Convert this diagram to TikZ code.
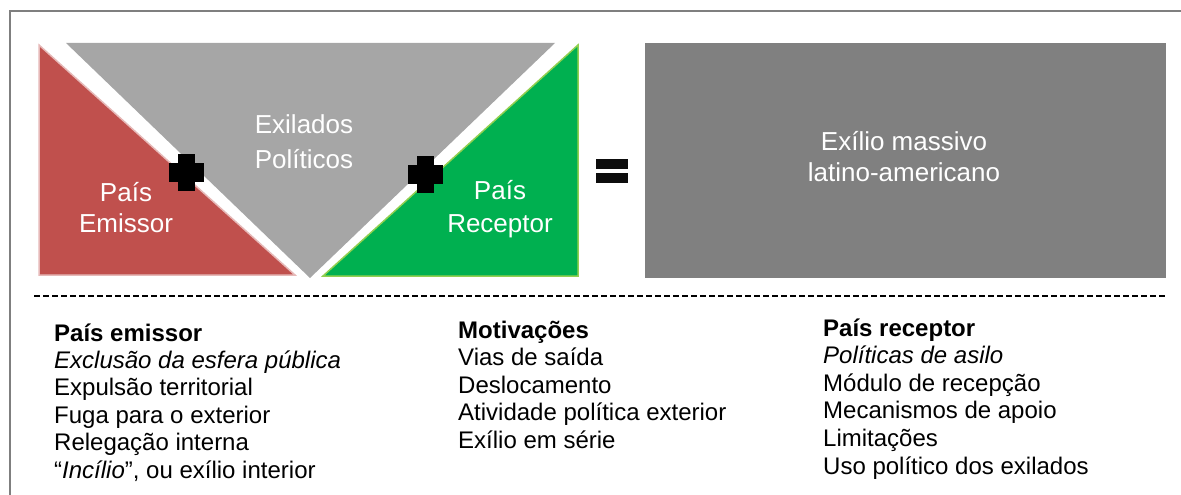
\documentclass[tikz,border=0pt]{standalone}
\usepackage{fontspec}
\setmainfont{Liberation Sans}
\definecolor{emissorred}{HTML}{C0504D}
\definecolor{emissoredge}{HTML}{E6B9B8}
\definecolor{receptorgreen}{HTML}{00B050}
\definecolor{receptoredge}{HTML}{92D050}
\definecolor{exiladosgray}{HTML}{A6A6A6}
\definecolor{massivogray}{HTML}{808080}
\definecolor{framegray}{HTML}{7F7F7F}
\tikzset{
  biglabel/.style={text=white, align=center, inner sep=0pt, anchor=base,
    font=\fontsize{26}{32}\selectfont},
  column/.style={align=left, inner sep=0pt, anchor=base west,
    font=\fontsize{24}{27.5}\selectfont}
}
\begin{document}
\begin{tikzpicture}[x=1pt,y=-1pt]
        \useasboundingbox (0,0) rectangle (1181,495);
        \draw[framegray, line width=1.5pt] (10,495) -- (10,11) -- (1181,11);
        % triangles
        \fill[exiladosgray] (66,43) -- (555,43) -- (310,278) -- cycle;
        \filldraw[fill=emissorred, draw=emissoredge, line width=1.5pt] (39,45) -- (39,275) -- (295,275) -- cycle;
        \filldraw[fill=receptorgreen, draw=receptoredge, line width=1.5pt] (323,276) -- (578,45) -- (578,276) -- cycle;
        \fill[massivogray] (645,43) rectangle (1166,278);
        % plus and equals signs
        \foreach \cx/\cy in {186/172, 425/174} {
            \fill[black] (\cx-8.5,\cy-18.5) rectangle (\cx+8.5,\cy+18.5);
            \fill[black] (\cx-17.5,\cy-9.5) rectangle (\cx+17.5,\cy+9.5);
        }
        \fill[black!95] (596,159) rectangle (628,169);
        \fill[black!95] (596,173) rectangle (628,183);
        % labels (anchored at the last line's baseline)
        \node[biglabel, font=\fontsize{26}{31}\selectfont] (emissor) at (126,232) {País\\Emissor};
        \node[biglabel, font=\fontsize{26}{35}\selectfont] (exilados) at (304,168) {Exilados\\Políticos};
        \node[biglabel, font=\fontsize{26}{33}\selectfont] (receptor) at (500,232) {País\\Receptor};
        \node[biglabel, font=\fontsize{26}{31}\selectfont] (massivo) at (904,181) {Exílio massivo\\latino-americano};
        \draw[dash pattern=on 6pt off 3pt, line width=1.2pt] (34,296) -- (1167,296);
        % columns
        \node[column, font=\fontsize{24}{27.4}\selectfont] (colemissor) at (54,478) {\textbf{País emissor}\\\textit{Exclusão da esfera pública}\\Expulsão territorial\\Fuga para o exterior\\Relegação interna\\“\textit{Incílio}”, ou exílio interior};
        \node[column] (colmotivos) at (458,448) {\textbf{Motivações}\\Vias de saída\\Deslocamento\\Atividade política exterior\\Exílio em série};
        \node[column, font=\fontsize{24}{27.6}\selectfont] (colreceptor) at (823,474) {\textbf{País receptor}\\\textit{Políticas de asilo}\\Módulo de recepção\\Mecanismos de apoio\\Limitações\\Uso político dos exilados};
    \end{tikzpicture}
\end{document}
